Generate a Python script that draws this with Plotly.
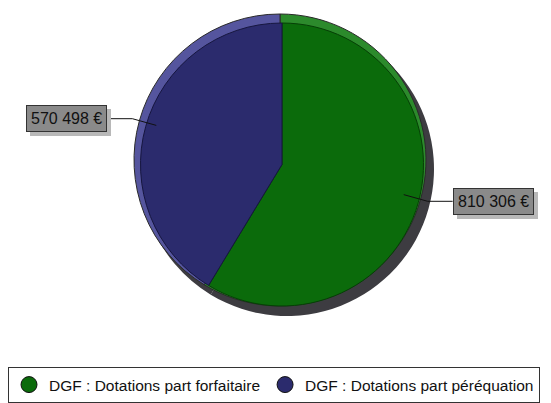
import math

import plotly.graph_objects as go

# data
categories = ["DGF : Dotations part forfaitaire", "DGF : Dotations part péréquation"]
values = [810306, 570498]
colors = ["#0b6b0b", "#2b2b6d"]
rim_colors = ["#2c8a2c", "#55559e"]

W, H = 551, 403
PAGE = 8  # the page body adds an 8px margin round the figure
CX, CY, R = 280 - PAGE, 160 - PAGE, 146  # pie centre and radius, figure pixels
BEVEL = 4.5


def px_domain(cx, cy, r):
    return dict(x=[(cx - r) / W, (cx + r) / W], y=[1 - (cy + r) / H, 1 - (cy - r) / H])


def fmt_eur(v):
    return f"{v:,}".replace(",", " ") + " €"


def blank_like(s):
    # same width in Liberation Sans: digits and € are two no-break spaces wide
    return "".join("\u00a0" if c == " " else "\u00a0\u00a0" for c in s)


pie_common = dict(
    labels=categories,
    values=values,
    sort=False,
    direction="clockwise",
    rotation=0,
    textinfo="none",
    hoverinfo="label+value+percent",
    showlegend=False,
)

fig = go.Figure()
# drop shadow
fig.add_trace(go.Pie(
    **pie_common,
    marker=dict(colors=["#3d3c41"] * len(values), line=dict(width=0)),
    domain=px_domain(CX + 7, CY + 9, R + 1),
))
# light bevel rim
fig.add_trace(go.Pie(
    **pie_common,
    marker=dict(colors=rim_colors, line=dict(color="#2a2a2a", width=1)),
    domain=px_domain(CX, CY, R),
))
# main face
fig.add_trace(go.Pie(
    **pie_common,
    marker=dict(colors=colors, line=dict(color=["#063f06", "#16163f"], width=1)),
    domain=px_domain(CX + 2, CY + BEVEL, R - BEVEL),
))

# legend entries (circle markers)
for name, col in zip(categories, colors):
    fig.add_trace(go.Scatter(
        x=[None], y=[None], mode="markers", name=name,
        marker=dict(symbol="circle", size=16, color=col, line=dict(color="#111111", width=1)),
    ))

# boxed value labels with elbow leader lines
total = sum(values)
cum = 0
shapes = []
for v in values:
    theta = 2 * math.pi * (cum + v / 2) / total
    cum += v
    dx, dy = math.sin(theta), -math.cos(theta)
    ax, ay = CX + 0.88 * R * dx, CY + 0.88 * R * dy
    ex, ey = CX + 1.05 * R * dx, CY + 1.05 * R * dy
    side = 1 if dx > 0 else -1
    bx = ex + side * 25
    for (x0, y0, x1, y1) in [(ax, ay, ex, ey), (ex, ey, bx, ey)]:
        shapes.append(dict(type="line", xref="paper", yref="paper",
                           x0=x0 / W, y0=1 - y0 / H, x1=x1 / W, y1=1 - y1 / H,
                           line=dict(color="#111111", width=1)))
    anchor = "left" if side > 0 else "right"
    label = fmt_eur(v)
    # box shadow
    fig.add_annotation(x=bx / W, y=1 - ey / H, xref="paper", yref="paper",
                       text=blank_like(label), showarrow=False, xanchor=anchor, yanchor="middle",
                       xshift=4, yshift=-4, bgcolor="#b8b8b8", bordercolor="#b8b8b8",
                       borderwidth=1, borderpad=4,
                       font=dict(family="Liberation Sans", size=16, color="#b8b8b8"))
    fig.add_annotation(x=bx / W, y=1 - ey / H, xref="paper", yref="paper",
                       text=label, showarrow=False, xanchor=anchor, yanchor="middle",
                       bgcolor="#8a8a8a", bordercolor="#333333", borderwidth=1, borderpad=4,
                       font=dict(family="Liberation Sans", size=16, color="#111111"))

fig.update_layout(
    width=W,
    height=H,
    margin=dict(l=0, r=0, t=0, b=0, autoexpand=False),
    paper_bgcolor="white",
    plot_bgcolor="white",
    shapes=shapes,
    xaxis=dict(visible=False),
    yaxis=dict(visible=False),
    legend=dict(
        orientation="h",
        x=0, y=1 - (367 - PAGE) / H, xanchor="left", yanchor="top",
        bordercolor="#333333", borderwidth=1, bgcolor="white",
        font=dict(family="Liberation Sans", size=15.5, color="#111111"),
        itemsizing="trace",
    ),
)

fig.write_html("out.html")
